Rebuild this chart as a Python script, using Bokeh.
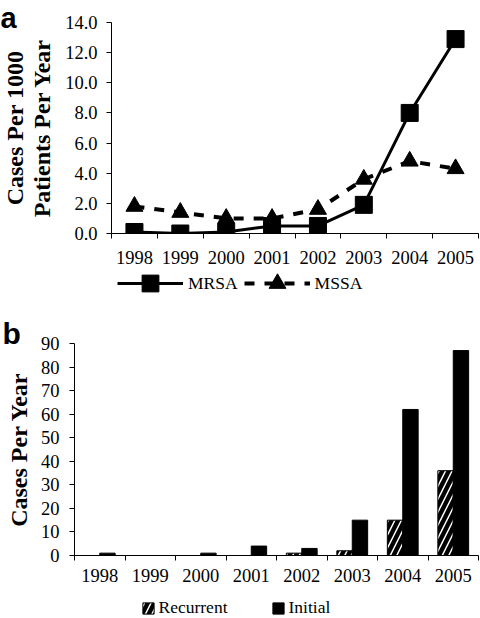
import numpy as np
from bokeh.plotting import figure
from bokeh.models import (FixedTicker, NumeralTickFormatter, Legend, LegendItem, Range1d, Title)
from bokeh.embed import file_html
from bokeh.resources import INLINE

# ---------------- data ----------------
years = [1998, 1999, 2000, 2001, 2002, 2003, 2004, 2005]
mrsa = [0.1, 0.0, 0.1, 0.5, 0.5, 1.9, 8.0, 12.9]
mssa = [1.8, 1.4, 1.0, 1.0, 1.6, 3.6, 4.8, 4.3]
recurrent = [0, 0, 0, 0, 1, 2, 15, 36]
initial = [1, 0, 1, 4, 3, 15, 62, 87]
top_yticks = [0, 2, 4, 6, 8, 10, 12, 14]
bot_yticks = [0, 10, 20, 30, 40, 50, 60, 70, 80, 90]

SERIF = "Liberation Serif"
SANS = "Liberation Sans"

yrs = np.array(years, dtype=float)
bounds = list(yrs - 0.5) + [yrs[-1] + 0.5]
year_labels = {y: str(y) for y in years}

MRSA_LINE = dict(line_color="black", line_width=3)
MSSA_LINE = dict(line_color="black", line_width=4, line_dash="10 10")
MARK = dict(fill_color="black", line_color="black", size=17)
HATCH = dict(fill_color="black", line_color="black", hatch_pattern="right_diagonal_line",
             hatch_color="white", hatch_weight=1.5, hatch_scale=13)
SOLID = dict(fill_color="black", line_color="black")
BW = 0.305


def style_axes(p, xstand, ystand):
    p.outline_line_color = None
    p.xgrid.visible = False
    p.ygrid.visible = False
    for ax in (p.xaxis[0], p.yaxis[0]):
        ax.axis_line_color = "black"
        ax.axis_line_width = 1
        ax.major_label_text_font = SERIF
        ax.major_label_text_font_size = "18.5px"
        ax.major_label_text_color = "black"
    xa = p.xaxis[0]
    xa.ticker = FixedTicker(ticks=years, minor_ticks=bounds)
    xa.major_label_overrides = year_labels
    xa.major_tick_line_color = None
    xa.major_tick_out = 0
    xa.major_tick_in = 0
    xa.minor_tick_line_color = "black"
    xa.minor_tick_out = 5
    xa.minor_tick_in = 0
    xa.major_label_standoff = xstand
    ya = p.yaxis[0]
    ya.major_tick_out = 5
    ya.major_tick_in = 0
    ya.major_tick_line_color = "black"
    ya.minor_tick_line_color = None
    ya.major_label_standoff = ystand


def title(text, size, font, standoff, valign="middle", align="center", offset=0):
    return Title(text=text, text_font=font, text_font_size=size, text_font_style="bold",
                 text_color="black", standoff=standoff, vertical_align=valign,
                 align=align, offset=offset)


def legend_figure(height):
    # a strip holding only the legend; its data ranges keep the key glyphs out of view
    f = figure(width=480, height=height, output_backend="svg", toolbar_location=None,
               x_range=Range1d(0, 1), y_range=Range1d(0, 1), title=None,
               x_axis_location=None, y_axis_location=None, min_border=0)
    f.outline_line_color = None
    f.xgrid.visible = False
    f.ygrid.visible = False
    return f


# ---------------- panel a ----------------
p1 = figure(width=480, height=266, output_backend="svg", toolbar_location=None,
            x_range=Range1d(bounds[0], bounds[-1]), y_range=Range1d(0, 14),
            min_border_left=111, min_border_right=2, min_border_top=22,
            min_border_bottom=33)
style_axes(p1, 12, 9)
p1.yaxis[0].ticker = FixedTicker(ticks=top_yticks)
p1.yaxis[0].formatter = NumeralTickFormatter(format="0.0")

p1.line(years, mrsa, **MRSA_LINE)
p1.scatter(years, mrsa, marker="square", **MARK)
p1.line(years, mssa, **MSSA_LINE)
p1.scatter(years, mssa, marker="triangle", **MARK)

p1.add_layout(title("Patients Per Year", "24px", SERIF, 14), "left")
p1.add_layout(title("Cases Per 1000", "24px", SERIF, -16), "left")
p1.add_layout(title("a", "29px", SANS, -27, valign="top", align="left", offset=-111), "above")

# legend a (separate strip)
q1 = legend_figure(34)
k1 = q1.line(years, mrsa, **MRSA_LINE)
k2 = q1.scatter(years, mrsa, marker="square", **MARK)
k3 = q1.line(years, mssa, **MSSA_LINE)
k4 = q1.scatter(years, mssa, marker="triangle", **MARK)
leg1 = Legend(items=[LegendItem(label="MRSA", renderers=[k1, k2]),
                     LegendItem(label="MSSA", renderers=[k3, k4])],
              location=(117, -4), orientation="horizontal",
              glyph_width=66, glyph_height=42, label_height=42, label_standoff=5, spacing=6,
              padding=0, margin=0, border_line_color=None, background_fill_alpha=0,
              label_text_font=SERIF, label_text_font_size="17.5px", label_text_color="black")
q1.add_layout(leg1, "center")

# ---------------- panel b ----------------
p2 = figure(width=480, height=294, output_backend="svg", toolbar_location=None,
            x_range=Range1d(bounds[0], bounds[-1]), y_range=Range1d(0, 90),
            min_border_left=72, min_border_right=2, min_border_top=43,
            min_border_bottom=39)
style_axes(p2, 8, 10)
p2.yaxis[0].ticker = FixedTicker(ticks=bot_yticks)

p2.vbar(x=yrs - BW / 2, top=recurrent, width=BW, **HATCH)
p2.vbar(x=yrs + BW / 2, top=initial, width=BW, **SOLID)

p2.add_layout(title("Cases Per Year", "24px", SERIF, 9), "left")
p2.add_layout(title("b", "30px", SANS, -12.8, valign="bottom", align="left", offset=-72), "above")

# legend b (separate strip)
q2 = legend_figure(24)
b1 = q2.vbar(x=yrs - BW / 2, top=recurrent, width=BW, **HATCH)
b2 = q2.vbar(x=yrs + BW / 2, top=initial, width=BW, **SOLID)
leg2 = Legend(items=[LegendItem(label="Recurrent", renderers=[b1]),
                     LegendItem(label="Initial", renderers=[b2])],
              location=(140.5, 0), orientation="horizontal",
              glyph_width=14, glyph_height=14, label_height=20, label_standoff=4, spacing=43,
              padding=0, margin=0, border_line_color=None, background_fill_alpha=0,
              label_text_font=SERIF, label_text_font_size="17.5px", label_text_color="black")
q2.add_layout(leg2, "center")

open("out.html", "w").write(file_html([p1, q1, p2, q2], INLINE))
